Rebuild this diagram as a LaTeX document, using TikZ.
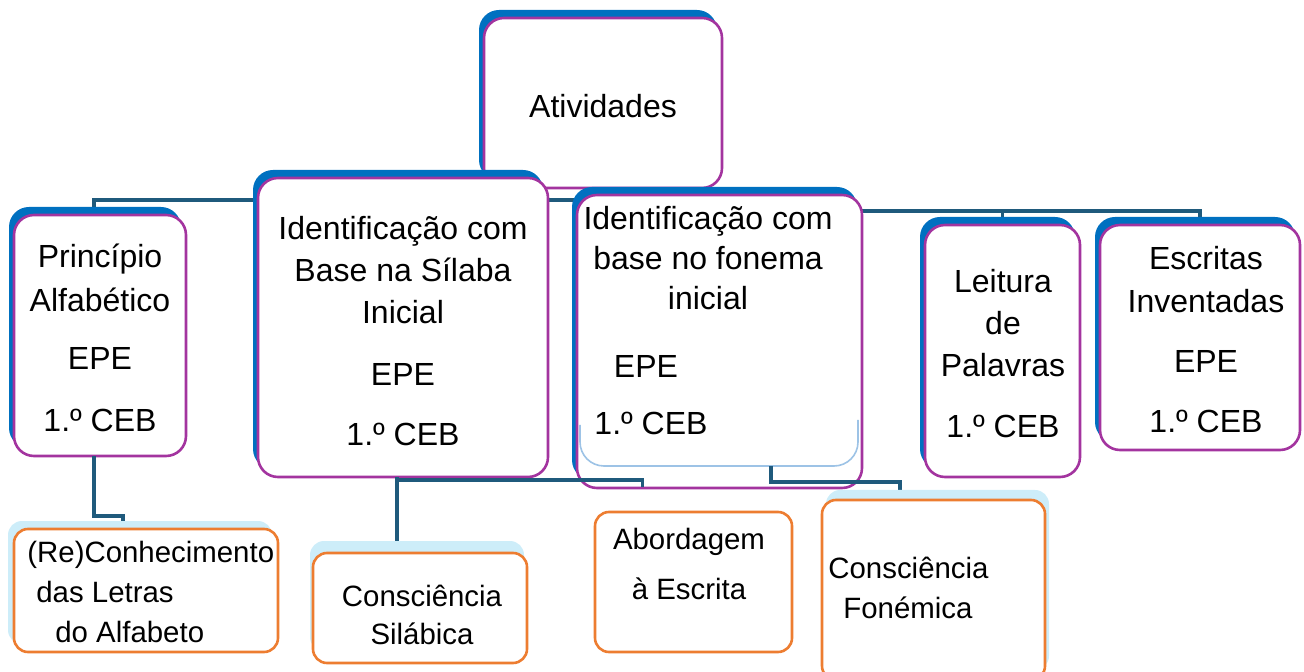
\documentclass[tikz,border=0pt]{standalone}
\usepackage{fontspec}
\setmainfont{Liberation Sans}
\usetikzlibrary{shadows}
\definecolor{roxo}{HTML}{A3349F}
\definecolor{azulEscuro}{HTML}{0070C0}
\definecolor{laranja}{HTML}{ED7D31}
\definecolor{azulClaro}{HTML}{CDEDF9}
\definecolor{linha}{HTML}{1F5A7C}
\definecolor{contorno}{HTML}{9DC3E6}
\pgfdeclarelayer{barramento}
\pgfdeclarelayer{ligacoes}
\pgfdeclarelayer{frente}
\pgfsetlayers{barramento,main,ligacoes,frente}
\tikzset{
	caixa/.style={
		draw=roxo, line width=1.3pt, fill=white, rounded corners=10pt,
		inner sep=0pt, outer sep=0pt,
		general shadow={fill=azulEscuro, shadow xshift=-2.5pt, shadow yshift=4pt}
	},
	subcaixa/.style={
		draw=laranja, line width=1.3pt, fill=white, rounded corners=7pt,
		inner sep=0pt, outer sep=0pt
	},
	sombra/.style 2 args={
		general shadow={fill=azulClaro, shadow xshift=#1, shadow yshift=#2}
	},
	ligacao/.style={draw=linha, line width=1.6pt},
	texto/.style={align=center, inner sep=0pt, font=\fontsize{16}{21}\selectfont},
	textinho/.style={align=left, inner sep=0pt, font=\fontsize{14.7}{20}\selectfont}
}
\newcommand{\bloco}[6] {
	\node[#6, minimum width={(#4-#2)*0.5pt}, minimum height={(#5-#3)*0.5pt}] (#1) at ({(#2+#4)/2},{(#3+#5)/2}) {};
}

\begin{document}
\begin{tikzpicture}[x=0.5pt, y=-0.5pt]
		\useasboundingbox (0,0) rectangle (1304,672);

		% Atividades
		\bloco{atv}{484}{18}{722}{188}{caixa}
		\node[texto] (atvT) at (603,106) {Atividades};

		% segunda linha
		\bloco{pa}{14}{215}{186}{456}{caixa}
		\node[texto] (paT) at (100,338) {Princípio\\[1pt]Alfabético\\[8pt]EPE\\[10pt]1.º CEB};

		\bloco{sil}{258}{178}{548}{477}{caixa}
		\node[texto] (silT) at (403,331) {Identificação com\\Base na Sílaba\\Inicial\\[10pt]EPE\\[9pt]1.º CEB};

		\bloco{fon}{577}{195}{862}{488}{caixa}
		\draw[contorno, line width=0.8pt, rounded corners=12pt] (580,425) -- (580,466) -- (858,466) -- (858,420);
		\node[texto] (fonT) at (708,258) {Identificação com\\[-1pt]base no fonema\\[-1pt]inicial};
		\node[texto] (fonE) at (646,366) {EPE};
		\node[texto] (fonC) at (651,423) {1.º CEB};

		\bloco{lp}{925}{225}{1080}{477}{caixa}
		\node[texto] (lpT) at (1003,354) {Leitura\\de\\Palavras\\[9.5pt]1.º CEB};

		\bloco{ei}{1100}{225}{1300}{450}{caixa}
		\node[texto] (eiT) at (1206,340) {Escritas\\[0.5pt]Inventadas\\[9pt]EPE\\[9pt]1.º CEB};

		% terceira linha
		\begin{pgfonlayer}{frente}
		\bloco{rc}{14}{529}{278}{652}{subcaixa, sombra={-3pt}{4pt}}
		\node[textinho, anchor=west] (rcT) at (27,592) {(Re)Conhecimento\\\hspace*{4.5pt}das Letras\\\hspace*{14pt}do Alfabeto};

		\bloco{cs}{313}{553}{527}{663}{subcaixa, sombra={-1.5pt}{6pt}}
		\node[textinho, align=center] (csT) at (422,615) {Consciência\\[-1pt]Silábica};

		\bloco{ae}{595}{512}{792}{652}{subcaixa}
		\node[textinho, align=center] (aeT) at (689,564) {Abordagem\\[5pt]à Escrita};

		\bloco{cf}{822}{500}{1045}{680}{subcaixa, sombra={2pt}{5pt}}
		\node[textinho, anchor=west] (cfT) at (828,588) {Consciência\\\hspace*{7.5pt}Fonémica};
		\end{pgfonlayer}

		% ligacoes do topo
		\begin{pgfonlayer}{barramento}
		\draw[ligacao] (atv.south) -- ++(0,12) -| ([xshift=-3pt]pa.north);
		\draw[ligacao] (atv.south) -- ++(0,12) -| (sil.north);
		\draw[ligacao] (atv.south) -- ++(0,23) -| (fon.north);
		\draw[ligacao] (atv.south) -- ++(0,23) -| (lp.north);
		\draw[ligacao] (atv.south) -- ++(0,23) -| (ei.north);
		\end{pgfonlayer}

		% ligacoes de baixo
		\begin{pgfonlayer}{ligacoes}
		\draw[ligacao] ([xshift=-3pt]pa.south) -- ++(0,60) -| ([xshift=-11.5pt]rc.north);
		\draw[ligacao] ([xshift=-3pt]sil.south) -- ([xshift=-3pt]sil.south |- cs.north);
		\draw[ligacao] ([xshift=-3pt]sil.south) -- ++(0,3) -| ([shift={(-25.5pt,12.5pt)}]ae.north);
		\draw[ligacao] ([shift={(25.75pt,11pt)}]fon.south) -- ++(0,16) -| ([xshift=-16.75pt]cf.north);
		\end{pgfonlayer}

	\end{tikzpicture}
\end{document}
